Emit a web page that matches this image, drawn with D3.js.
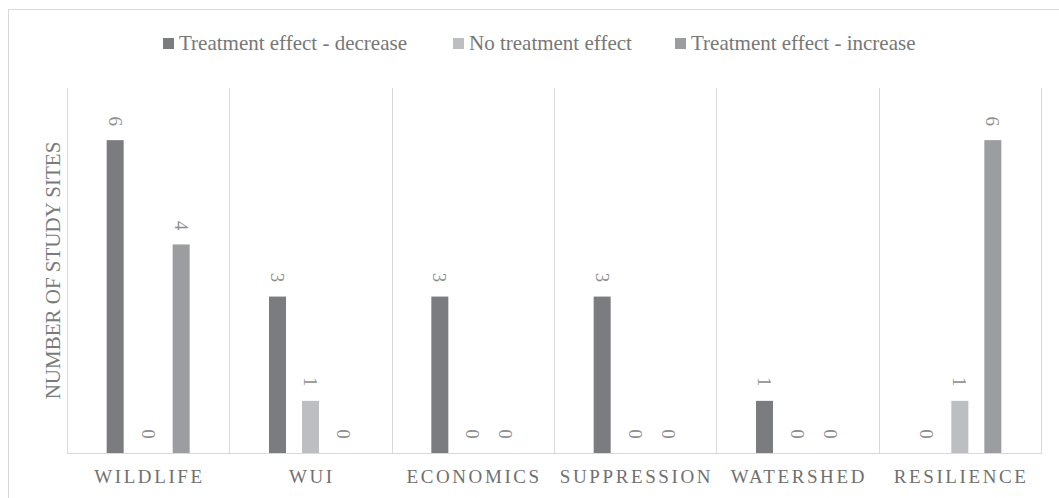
<!DOCTYPE html>
<html><head><meta charset="utf-8">
<script src="https://cdn.jsdelivr.net/npm/d3@7"></script>
<style>body{margin:0;background:#fff}svg{display:block}svg text{font-family:"Liberation Serif","Times New Roman",Times,serif}</style>
</head><body>
<svg id="c" width="1059" height="498"></svg>
<script>
const categories = ["WILDLIFE","WUI","ECONOMICS","SUPPRESSION","WATERSHED","RESILIENCE"];
const seriesNames = ["Treatment effect - decrease","No treatment effect","Treatment effect - increase"];
const decrease = [6,3,3,3,1,0];
const noEffect = [0,1,0,0,0,1];
const increase = [4,0,0,0,0,6];
const yTicks = [0,1,2,3,4,5,6,7];
const colors = ["#7b7c80","#bdbec2","#9c9da1"];

const seriesValues = [decrease, noEffect, increase];
const svg = d3.select("#c");
const m = {l:67, r:1041, t:88, b:453};

// outer frame
svg.append("rect").attr("x",8.5).attr("y",9.5).attr("width",1100).attr("height",600)
  .attr("fill","none").attr("stroke","#d9d9d9");

const x = d3.scaleBand().domain(categories).range([m.l,m.r]).padding(0);
const y = d3.scaleLinear().domain([0, d3.max(yTicks)]).range([m.b,m.t]);
const step = 33, bw = 17;
const xs = d3.scaleLinear().domain([0,2]).range([-step, step]);

// vertical category separators
const bounds = categories.map(c=>x(c)).concat([m.r]);
svg.append("g").selectAll("line").data(bounds).join("line")
  .attr("x1",d=>Math.round(d)+0.5).attr("x2",d=>Math.round(d)+0.5).attr("y1",m.t).attr("y2",m.b)
  .attr("stroke","#d9d9d9").attr("stroke-width",1);

// baseline
svg.append("line").attr("x1",m.l).attr("x2",m.r+1).attr("y1",m.b+0.5).attr("y2",m.b+0.5)
  .attr("stroke","#d9d9d9");

// bars
const data = [];
categories.forEach((c,i)=>seriesValues.forEach((s,j)=>data.push({c, j, v:s[i]})));
const cx = d => x(d.c) + x.bandwidth()/2 + xs(d.j);
svg.append("g").selectAll("rect").data(data.filter(d=>d.v>0)).join("rect")
  .attr("x",d=>cx(d)-bw/2).attr("width",bw)
  .attr("y",d=>y(d.v)).attr("height",d=>y(0)-y(d.v))
  .attr("fill",d=>colors[d.j]);

// value labels rotated
svg.append("g").selectAll("text").data(data).join("text")
  .attr("transform",d=>`translate(${cx(d)},${y(d.v)-19}) rotate(90)`)
  .attr("text-anchor","middle").attr("dominant-baseline","central")
  .style("font-size","19px").attr("fill","#8e8e8e")
  .text(d=>d.v);

// category labels
svg.append("g").selectAll("text").data(categories).join("text")
  .attr("x",d=>x(d)+x.bandwidth()/2+1.3).attr("y",483)
  .attr("text-anchor","middle").style("font-size","19px")
  .style("letter-spacing","2.6px").attr("fill","#707070").text(d=>d);

// y title
svg.append("text").attr("transform",`translate(53,${(m.t+m.b)/2}) rotate(-90)`)
  .attr("text-anchor","middle").attr("dominant-baseline","central").style("font-size","21px")
  .attr("fill","#7a7a7a").text("NUMBER OF STUDY SITES");

// legend
const legX = [163,453,675];
const lg = svg.append("g").selectAll("g").data(seriesNames).join("g")
  .attr("transform",(d,i)=>`translate(${legX[i]},43.5)`);
lg.append("rect").attr("x",0).attr("y",-5.5).attr("width",11).attr("height",11).attr("fill",(d,i)=>colors[i]);
lg.append("text").attr("x",16).attr("y",6.5)
  .style("font-size","21px").attr("fill","#777777").text(d=>d);
</script>
</body></html>
